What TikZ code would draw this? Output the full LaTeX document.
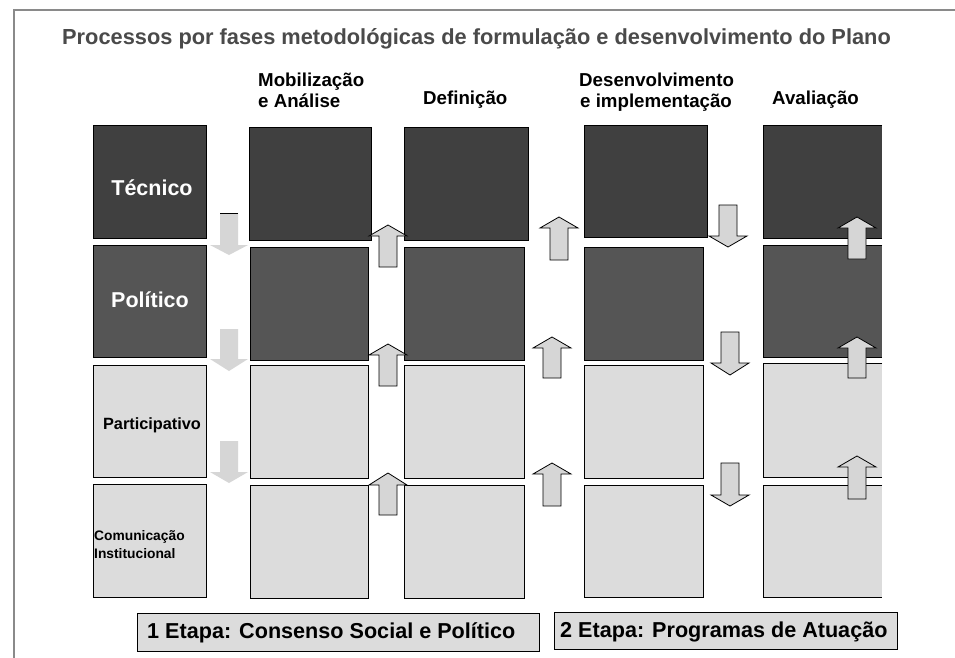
\documentclass[tikz,border=0pt]{standalone}
\usepackage{fontspec}
\setmainfont{Liberation Sans}
\definecolor{rowA}{HTML}{404040}
\definecolor{rowB}{HTML}{555555}
\definecolor{rowC}{HTML}{DCDCDC}
\definecolor{arrfill}{HTML}{D6D6D6}
\definecolor{titlegray}{HTML}{4A4A4A}
\definecolor{framegray}{HTML}{8A8A8A}
\tikzset{
  cell/.style={draw=black, line width=1pt, inner sep=0pt, outer sep=0pt},
  opencell/.style={draw=none, inner sep=0pt, outer sep=0pt},
  blockarrow/.style={fill=arrfill, draw=black, line width=0.8pt, line join=miter},
  plainarrow/.style={fill=arrfill, draw=none},
  hdr/.style={font=\bfseries\fontsize{18.7}{21}\selectfont, anchor=base west, inner sep=0pt},
  rowlbl/.style={font=\bfseries\fontsize{21.5}{24}\selectfont, text=white, anchor=base, inner sep=0pt},
  stagebox/.style={fill=rowC, draw=black, line width=1pt},
  stagetxt/.style={font=\bfseries\fontsize{21.6}{24}\selectfont, anchor=base west, inner sep=0pt}
}
% box: name, x1, y1, x2, y2, fill, style
\newcommand\cellbox[7]{%
  \node[#7, fill=#6, minimum width={(#4-#2)*1pt}, minimum height={(#5-#3)*1pt}] (#1) at ({(#2+#4)/2},{(#3+#5)/2}) {};}
% up arrow: cx, tip, head base, bottom, style
\newcommand\uparrowblk[5]{%
  \draw[#5] ({#1-9},#4) -- ({#1-9},#3) -- ({#1-19},#3) -- (#1,#2) -- ({#1+19},#3) -- ({#1+9},#3) -- ({#1+9},#4) -- cycle;}
% down arrow: cx, top, head base, tip, style
\newcommand\downarrowblk[5]{%
  \draw[#5] ({#1-9},#2) -- ({#1-9},#3) -- ({#1-19},#3) -- (#1,#4) -- ({#1+19},#3) -- ({#1+9},#3) -- ({#1+9},#2) -- cycle;}
\begin{document}
\begin{tikzpicture}[x=1pt,y=-1pt]
\useasboundingbox (0,0) rectangle (955,658);
\fill[white] (0,0) rectangle (955,658);
% frame
\draw[framegray, line width=1.5pt] (14,658) -- (14,10) -- (955,10);
% title
\node[font=\bfseries\fontsize{21.8}{24}\selectfont, text=titlegray, anchor=base west, inner sep=0pt] (title) at (62,45)
  {Processos por fases metodológicas de formulação e desenvolvimento do Plano};
% headers
\node[hdr] (h1a) at (258,87) {Mobilização};
\node[hdr] (h1b) at (258,108) {e Análise};
\node[hdr] (h2) at (423,105) {Definição};
\node[hdr] (h3a) at (579,87) {Desenvolvimento};
\node[hdr] (h3b) at (580,108) {e implementação};
\node[hdr] (h4) at (772,105) {Avaliação};
% column 0
\cellbox{c00}{93}{126}{206}{238}{rowA}{cell}
\cellbox{c01}{93}{245}{206}{357}{rowB}{cell}
\cellbox{c02}{93}{365}{206}{477}{rowC}{cell}
\cellbox{c03}{93}{484}{206}{597}{rowC}{cell}
% column 1
\cellbox{c10}{249}{128}{371}{240}{rowA}{cell}
\cellbox{c11}{250}{247}{368}{360}{rowB}{cell}
\cellbox{c12}{250}{365}{368}{478}{rowC}{cell}
\cellbox{c13}{250}{485}{368}{598}{rowC}{cell}
% column 2
\cellbox{c20}{404}{128}{528}{240}{rowA}{cell}
\cellbox{c21}{404}{247}{524}{360}{rowB}{cell}
\cellbox{c22}{404}{365}{524}{478}{rowC}{cell}
\cellbox{c23}{404}{485}{524}{598}{rowC}{cell}
% column 3
\cellbox{c30}{584}{126}{707}{237}{rowA}{cell}
\cellbox{c31}{584}{247}{703}{360}{rowB}{cell}
\cellbox{c32}{584}{365}{703}{478}{rowC}{cell}
\cellbox{c33}{584}{485}{703}{597}{rowC}{cell}
% column 4 (open on the right)
\cellbox{c40}{763}{126}{882}{238}{rowA}{opencell}
\cellbox{c41}{763}{245}{882}{357}{rowB}{opencell}
\cellbox{c42}{763}{363}{882}{477}{rowC}{opencell}
\cellbox{c43}{763}{485}{882}{597}{rowC}{opencell}
\foreach \n in {c40,c41,c42,c43}{
  \draw[black, line width=1pt] (\n.north east) -- (\n.north west) -- (\n.south west) -- (\n.south east);
}
% row labels
\node[rowlbl] (lt) at (152,195) {Técnico};
\node[rowlbl] (lp) at (150,307) {Político};
\node[font=\bfseries\fontsize{16.3}{19}\selectfont, anchor=base, inner sep=0pt] (lpa) at (152,429) {Participativo};
\node[font=\bfseries\fontsize{13.8}{18}\selectfont, anchor=base west, inner sep=0pt] (lc1) at (94,540) {Comunicação};
\node[font=\bfseries\fontsize{13.8}{18}\selectfont, anchor=base west, inner sep=0pt] (lc2) at (94,558) {Institucional};
% arrows column gap 0-1 (down)
\downarrowblk{229}{213}{245}{255}{plainarrow}
\downarrowblk{229}{329}{359}{371}{plainarrow}
\downarrowblk{229}{441}{472}{483}{plainarrow}
\draw[black, line width=1pt] (220,213) -- (238,213);
% arrows gap 1-2 (up)
\uparrowblk{388}{225}{236}{267}{blockarrow}
\uparrowblk{388}{344}{355}{386}{blockarrow}
\uparrowblk{388}{473}{485}{515}{blockarrow}
% arrows gap 2-3 (up)
\uparrowblk{559}{217}{228}{260}{blockarrow}
\uparrowblk{552}{337}{348}{378}{blockarrow}
\uparrowblk{552}{463}{474}{506}{blockarrow}
% arrows gap 3-4 (down)
\downarrowblk{728}{205}{236}{247}{blockarrow}
\downarrowblk{730}{332}{363}{375}{blockarrow}
\downarrowblk{730}{463}{495}{506}{blockarrow}
% arrows in column 4 (up)
\uparrowblk{857}{217}{228}{259}{blockarrow}
\uparrowblk{857}{337}{348}{378}{blockarrow}
\uparrowblk{857}{456}{467}{499}{blockarrow}
% stages
\draw[stagebox] (137,613) rectangle (539,651);
\node[stagetxt] (s1) at (147,638) {1 Etapa: Consenso Social e Político};
\draw[stagebox] (554,612) rectangle (897,649);
\node[stagetxt] (s2) at (560,637) {2 Etapa: Programas de Atuação};
\end{tikzpicture}
\end{document}
